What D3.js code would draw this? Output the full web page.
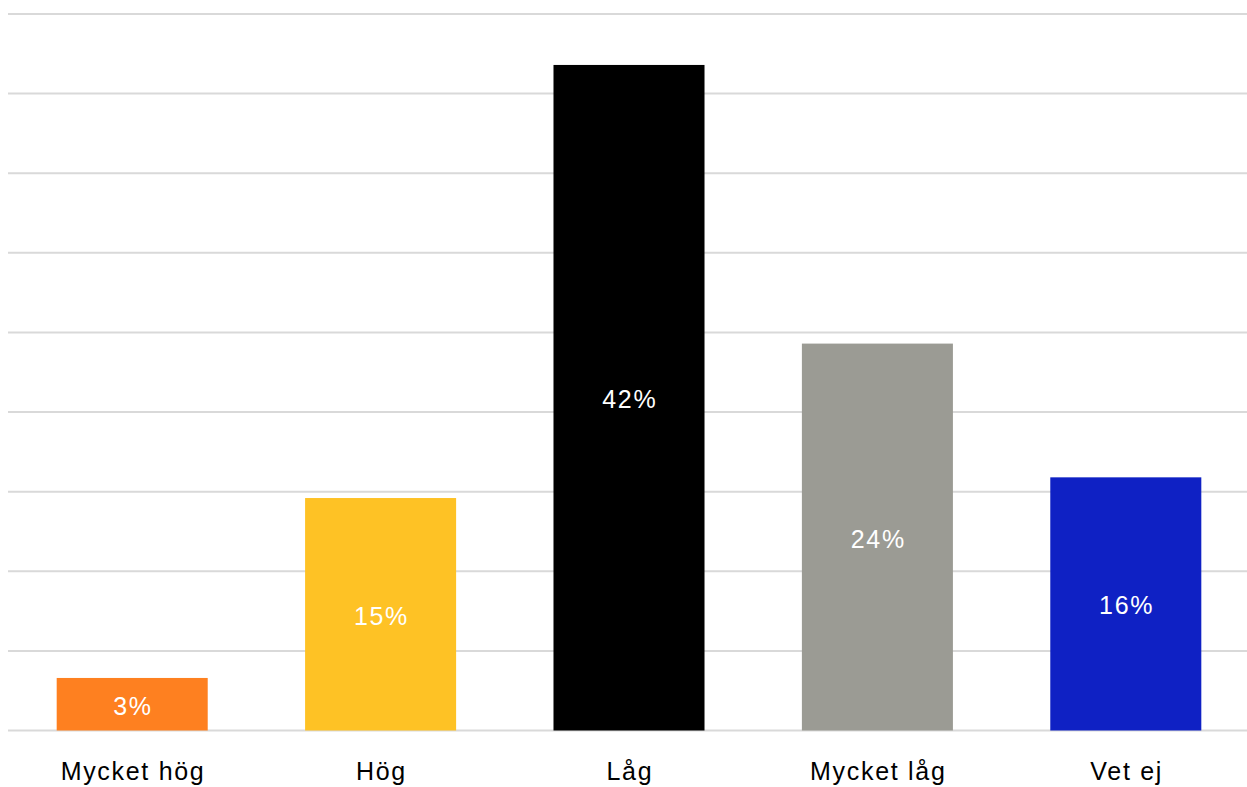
<!DOCTYPE html>
<html>
<head>
<meta charset="utf-8">
<script src="https://cdn.jsdelivr.net/npm/d3@7"></script>
<style>
  html, body { margin: 0; padding: 0; background: #fff; }
  svg { display: block; font-family: "Liberation Sans", Arial, Helvetica, sans-serif; }
</style>
</head>
<body>
<svg id="chart" width="1247" height="787"></svg>
<script>
const categories = ["Mycket hög", "Hög", "Låg", "Mycket låg", "Vet ej"];
const values = [3.3, 14.6, 41.8, 24.3, 15.9];
const labels = ["3%", "15%", "42%", "24%", "16%"];
const colors = ["#fe8020", "#fec225", "#000000", "#9b9b94", "#0f21c4"];
const gridTicks = [0, 5, 10, 15, 20, 25, 30, 35, 40, 45];

(function () {
const svg = d3.select("#chart");
const mLeft = 8, mRight = 1250, mTop = 14, mBottom = 730.5;
const ls = 1.7;

const x = d3.scaleBand().domain(categories).range([mLeft, mRight]).paddingInner(0.392).paddingOuter(0.196);
const y = d3.scaleLinear().domain([0, 45]).range([mBottom, mTop]);

svg.append("g").selectAll("line").data(gridTicks).join("line")
  .attr("x1", mLeft).attr("x2", 1247)
  .attr("y1", d => y(d)).attr("y2", d => y(d))
  .attr("stroke", "#d9d9d9").attr("stroke-width", 2);

svg.append("g").selectAll("rect").data(categories).join("rect")
  .attr("x", d => x(d))
  .attr("width", x.bandwidth())
  .attr("y", (d, i) => y(values[i]))
  .attr("height", (d, i) => y(0) - y(values[i]))
  .attr("fill", (d, i) => colors[i]);

svg.append("g").selectAll("text").data(categories).join("text")
  .attr("x", d => x(d) + x.bandwidth() / 2 + ls / 2)
  .attr("y", (d, i) => (y(values[i]) + y(0)) / 2 + 1.5)
  .attr("text-anchor", "middle")
  .attr("dominant-baseline", "central")
  .attr("fill", "#ffffff")
  .attr("font-size", 25)
  .attr("letter-spacing", ls)
  .text((d, i) => labels[i]);

const xAxis = d3.axisBottom(x).tickSize(0).tickPadding(0);
const gx = svg.append("g").attr("transform", `translate(0,${mBottom})`).call(xAxis);
gx.select(".domain").remove();
gx.selectAll("text")
  .attr("x", ls / 2)
  .attr("y", 41)
  .attr("dy", "0.35em")
  .attr("font-size", 25)
  .attr("letter-spacing", ls)
  .attr("fill", "#000")
  .attr("font-family", "\"Liberation Sans\", Arial, sans-serif");
})();
</script>
</body>
</html>
